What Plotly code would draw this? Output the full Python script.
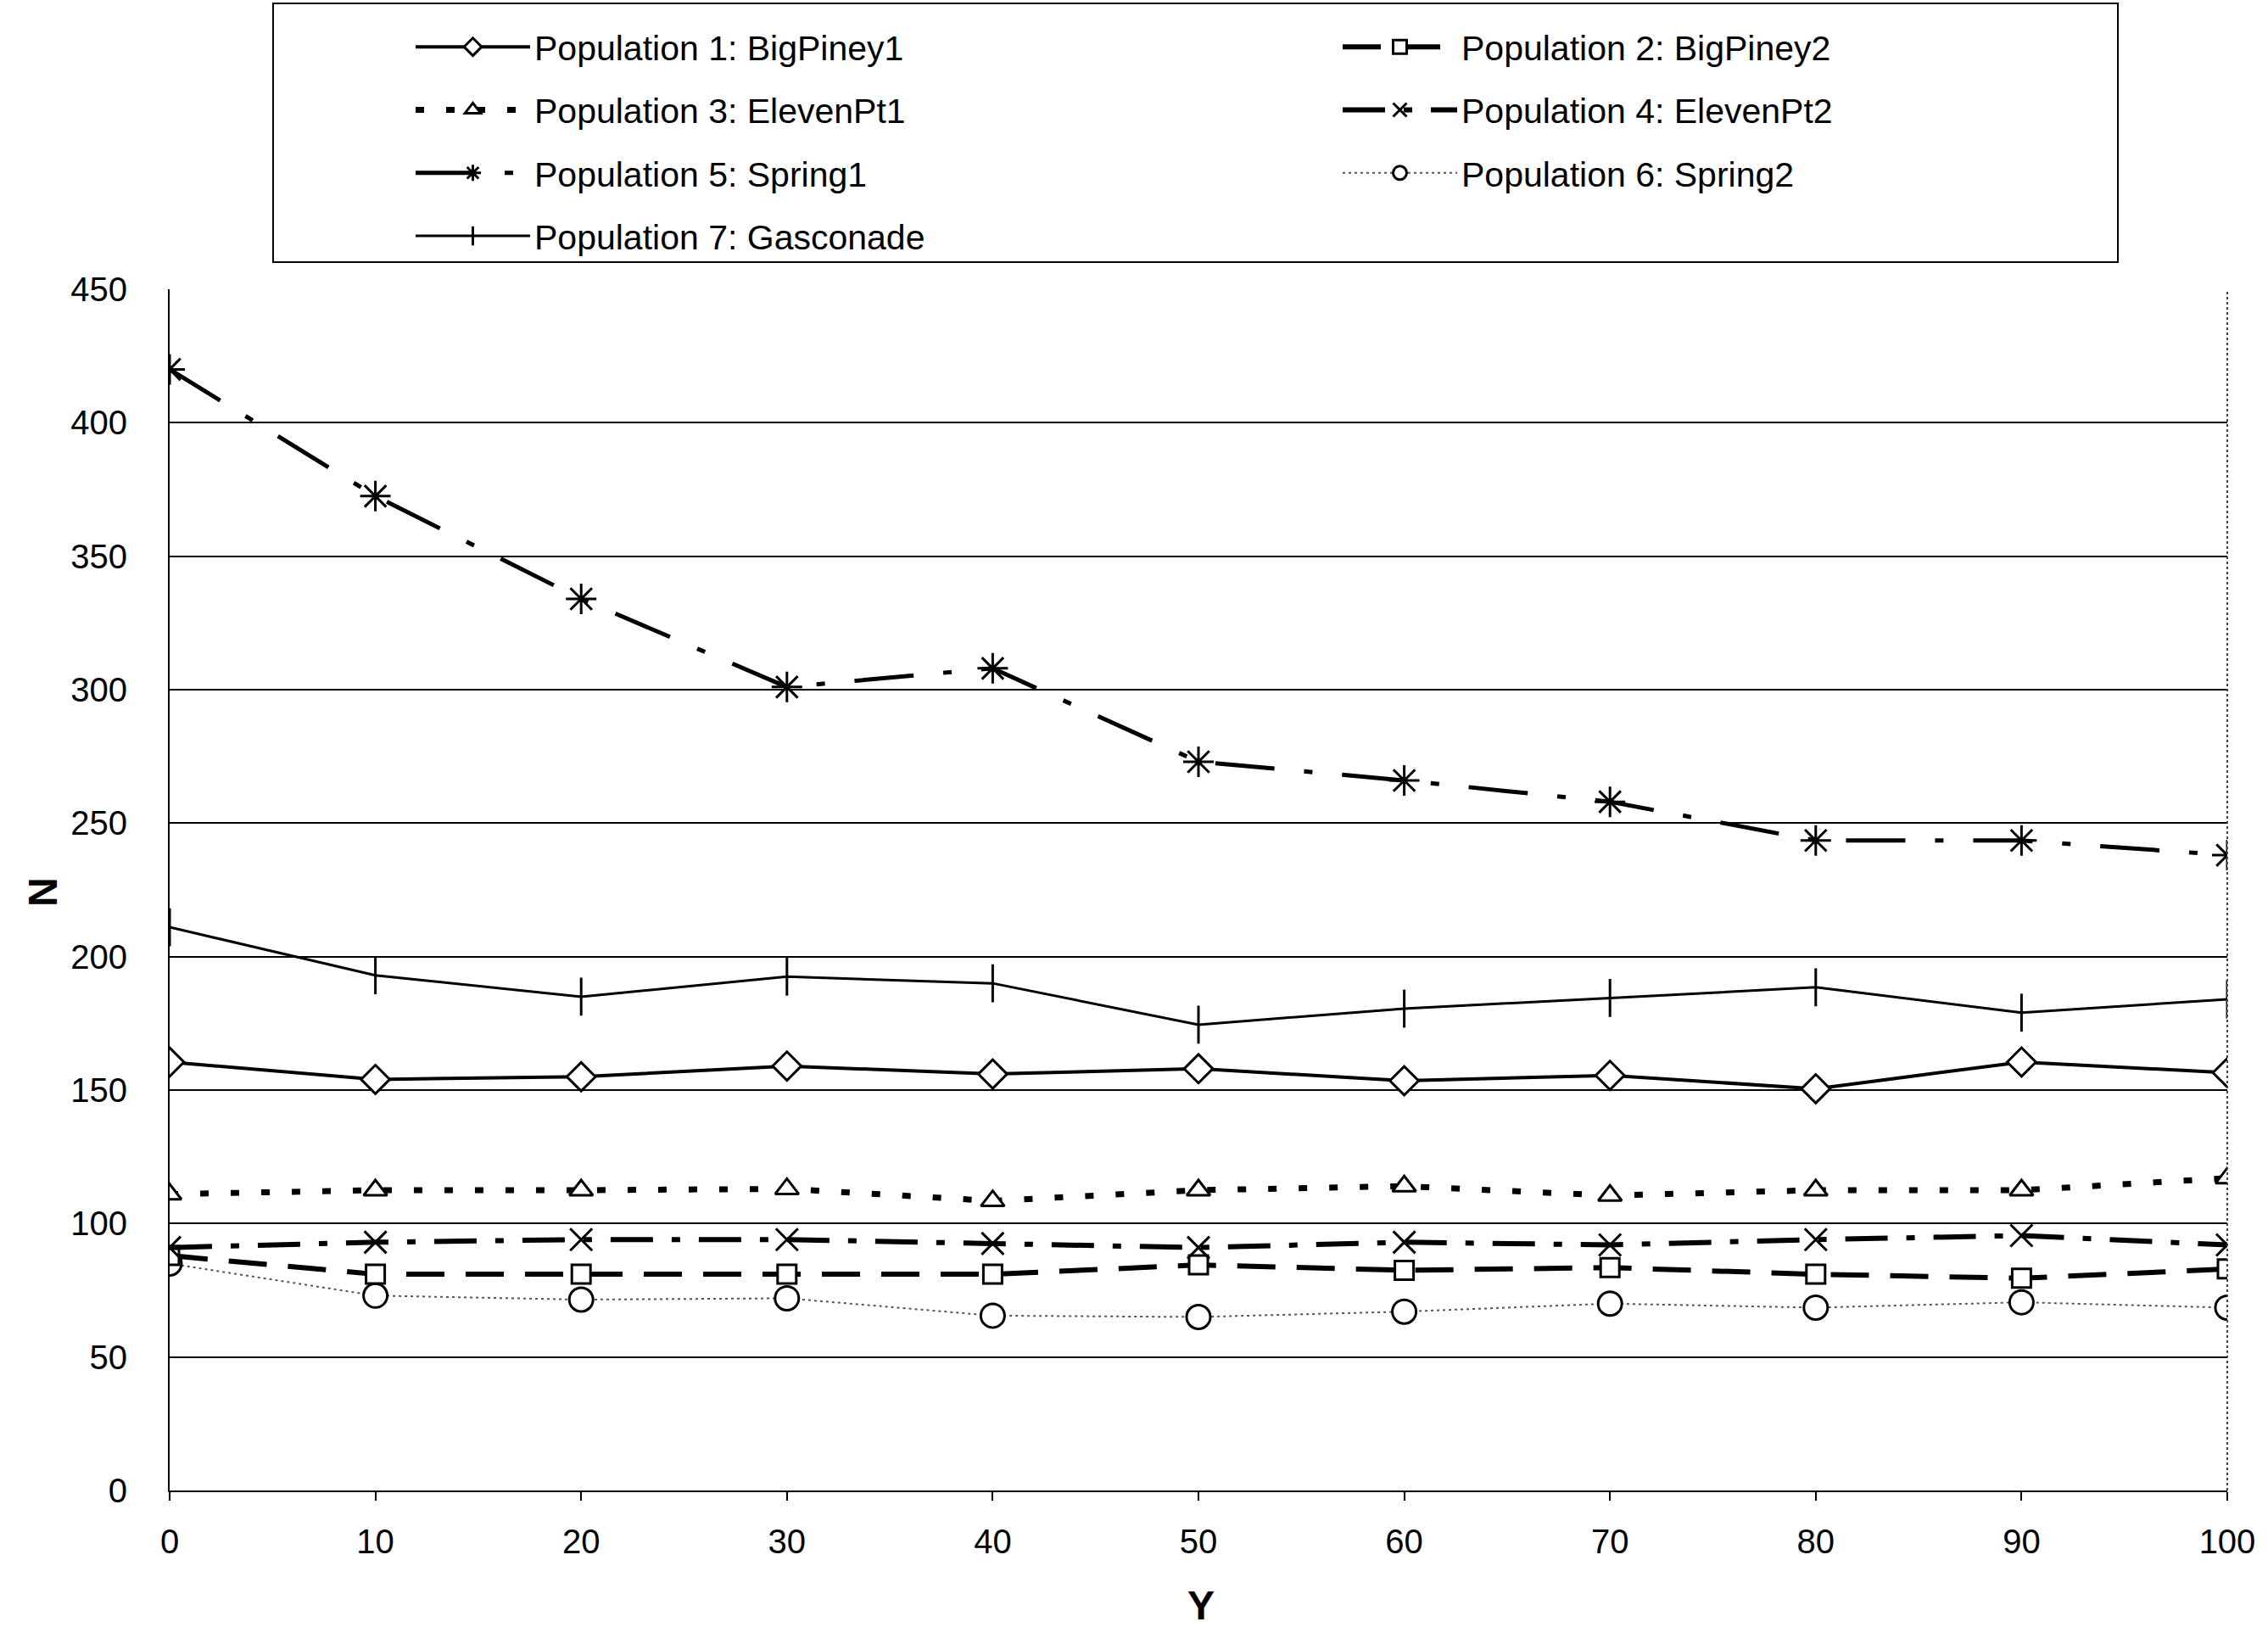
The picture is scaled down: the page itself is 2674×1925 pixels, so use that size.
import plotly.graph_objects as go

x_vals = [0, 10, 20, 30, 40, 50, 60, 70, 80, 90, 100]

pop1_bigpiney1 = [160.5, 154, 155, 159, 156, 158, 153.5, 155.5, 150.5, 160.5, 156.5]
pop2_bigpiney2 = [88, 81, 81, 81, 81, 84.5, 82.5, 83.5, 81, 79.5, 83]
pop3_elevenpt1 = [111, 112.5, 112.5, 113, 108.5, 112.5, 114, 110.5, 112.5, 112.5, 117]
pop4_elevenpt2 = [91, 93, 94, 94, 92.5, 91, 93, 92, 94, 95.5, 92]
pop5_spring1 = [420, 372.5, 334, 301, 308, 273, 266, 258, 243.5, 243.5, 238]
pop6_spring2 = [85, 73, 71.5, 72, 65.5, 65, 67, 70, 68.5, 70.5, 68.5]
pop7_gasconade = [211, 193, 185, 192.5, 190, 174.5, 180.5, 184.5, 188.5, 179, 184]

names = [
    "Population 1: BigPiney1",
    "Population 2: BigPiney2",
    "Population 3: ElevenPt1",
    "Population 4: ElevenPt2",
    "Population 5: Spring1",
    "Population 6: Spring2",
    "Population 7: Gasconade",
]
y_ticks = [0, 50, 100, 150, 200, 250, 300, 350, 400, 450]

series = [pop1_bigpiney1, pop2_bigpiney2, pop3_elevenpt1, pop4_elevenpt2,
          pop5_spring1, pop6_spring2, pop7_gasconade]

styles = [
    dict(line=dict(color="black", width=4, dash="solid"),
         marker=dict(symbol="diamond", size=26, color="white", line=dict(color="black", width=3)),
         legend="legend"),
    dict(line=dict(color="black", width=6, dash="45px,25px"),
         marker=dict(symbol="square", size=22, color="white", line=dict(color="black", width=3)),
         legend="legend2"),
    dict(line=dict(color="black", width=7, dash="10px,26px"),
         marker=dict(symbol="triangle-up", size=24, color="white", line=dict(color="black", width=3)),
         legend="legend"),
    dict(line=dict(color="black", width=6, dash="50px,22px,10px,22px"),
         marker=dict(symbol="x-thin-open", size=26, color="black", line=dict(color="black", width=3)),
         legend="legend2"),
    dict(line=dict(color="black", width=5, dash="70px,35px,10px,35px"),
         marker=dict(symbol="asterisk-open", size=30, color="black", line=dict(color="black", width=3)),
         legend="legend"),
    dict(line=dict(color="#555555", width=2, dash="3px,4px"),
         marker=dict(symbol="circle", size=28, color="white", line=dict(color="black", width=3)),
         legend="legend2"),
    dict(line=dict(color="black", width=3, dash="solid"),
         marker=dict(symbol="line-ns-open", size=32, color="black", line=dict(color="black", width=3)),
         legend="legend"),
]

fig = go.Figure()
for i in [5, 1, 3, 2, 0, 6, 4]:
    st = styles[i]
    fig.add_trace(go.Scatter(
        x=x_vals, y=series[i], name=names[i], mode="lines+markers",
        line=st["line"], marker=st["marker"], legend=st["legend"],
        legendrank=i + 1, legendgroup=f"g{i}",
    ))

W, H = 2674, 1925
L, R, T, B = 200, 48, 341, 168
pw, ph = W - L - R, H - T - B

def px_x(p):
    return (p - L) / pw

def px_y(p):
    return (H - B - p) / ph

legend_common = dict(
    font=dict(family="Liberation Sans, Arial", size=41, color="black"),
    bgcolor="rgba(0,0,0,0)", borderwidth=0, itemwidth=135,
    orientation="v", traceorder="grouped", tracegroupgap=18,
    xanchor="left", yanchor="top", itemclick=False,
)

fig.update_layout(
    width=W, height=H,
    margin=dict(l=L, r=R, t=T, b=B),
    paper_bgcolor="white", plot_bgcolor="white",
    font=dict(family="Liberation Sans, Arial", color="black"),
    showlegend=True,
    legend=dict(x=px_x(485), y=px_y(22), **legend_common),
    legend2=dict(x=px_x(1578), y=px_y(22), **legend_common),
    xaxis=dict(
        range=[0, 100], tickmode="array", tickvals=x_vals,
        ticks="outside", ticklen=10, tickcolor="black", tickwidth=2,
        ticklabelstandoff=14,
        tickfont=dict(family="Liberation Sans, Arial", size=40, color="black"),
        showgrid=False, zeroline=False,
        showline=True, linecolor="black", linewidth=2, mirror=False,
    ),
    yaxis=dict(
        range=[0, 450], tickmode="array", tickvals=y_ticks,
        ticks="", ticklabelstandoff=40,
        tickfont=dict(family="Liberation Sans, Arial", size=40, color="black"),
        showgrid=True, gridcolor="black", gridwidth=2, zeroline=False,
        showline=True, linecolor="black", linewidth=2, mirror=False,
    ),
    shapes=[
        dict(type="rect", xref="paper", yref="paper",
             x0=px_x(322), x1=px_x(2497), y0=px_y(309), y1=px_y(4),
             line=dict(color="black", width=2), fillcolor="rgba(0,0,0,0)"),
        dict(type="line", xref="paper", yref="paper",
             x0=1, x1=1, y0=0, y1=1,
             line=dict(color="#444444", width=2, dash="dot")),
    ],
    annotations=[
        dict(text="<b>N</b>", x=px_x(50), y=px_y(1052), xref="paper", yref="paper",
             xanchor="center", yanchor="middle",
             showarrow=False, textangle=-90,
             font=dict(family="Liberation Sans, Arial", size=48, color="black")),
        dict(text="<b>Y</b>", x=px_x(1416), y=px_y(1893), xref="paper", yref="paper",
             xanchor="center", yanchor="middle",
             showarrow=False,
             font=dict(family="Liberation Sans, Arial", size=48, color="black")),
    ],
)

fig.write_html("out.html")
